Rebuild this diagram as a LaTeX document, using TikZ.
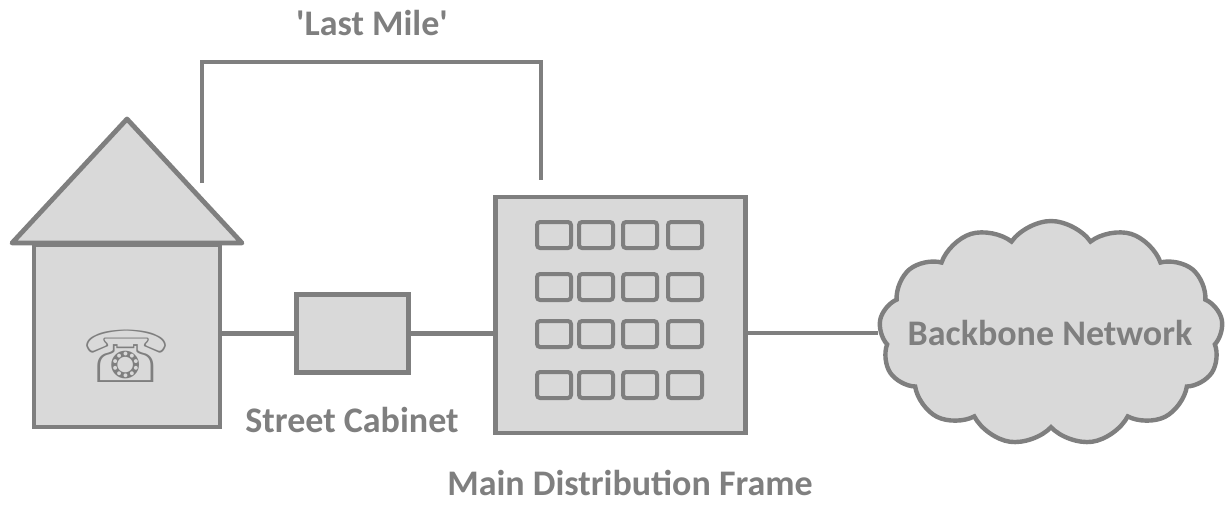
\documentclass[tikz,border=0pt]{standalone}
\usepackage{fontspec}
\setmainfont{Carlito}
\newfontfamily\symfont{DejaVu Sans}
\usepackage{tikz}
\usepackage{xcolor}
\usetikzlibrary{calc,shapes.symbols}
\definecolor{wiregray}{RGB}{127,127,127}
\definecolor{boxfill}{RGB}{217,217,217}
\begin{document}
\begin{tikzpicture}[x=0.5pt,y=-0.5pt,
        boxnode/.style={rectangle, draw=wiregray, fill=boxfill, line width=2.4pt, inner sep=0pt},
        portnode/.style={rectangle, draw=wiregray, fill=boxfill, line width=2pt, rounded corners=1.5pt, minimum width=17pt, minimum height=13pt, inner sep=0pt},
        labelnode/.style={text=wiregray, anchor=base, inner sep=0pt, font=\bfseries\fontsize{18}{21}\selectfont},
        wire/.style={draw=wiregray, line width=2.2pt}
        ]
            \useasboundingbox (0,0) rectangle (1232,505);

            % house
            \draw[draw=wiregray, fill=boxfill, line width=2.4pt, line join=round] (12,243) -- (127,119) -- (242,243) -- cycle;
            \node[boxnode, minimum width=93pt, minimum height=91pt] (house) at (127,336) {};
            \node[text=wiregray, font=\symfont\fontsize{36}{36}\selectfont] (phone) at (127,356) {☏};

            \node[boxnode, minimum width=56pt, minimum height=39pt] (cab) at (352.5,333.5) {};
            \node[boxnode, minimum width=125pt, minimum height=118pt] (mdf) at (620.5,315) {};
            \foreach \y [count=\r] in {235,287,334,385} {
                \foreach \x [count=\c] in {554,596,640,685} {
                    \node[portnode] (p\r\c) at (\x,\y) {};
                }
            }
            \node[cloud, cloud puffs=13, cloud puff arc=110, aspect=1.8, draw=wiregray, fill=boxfill, line width=2.2pt,
                  minimum width=172pt, minimum height=112pt, inner sep=0pt] (net) at (1051,333) {};
            \node[labelnode] (netlabel) at (1050,345) {Backbone Network};

            \coordinate (lmstart) at (202,183);
            \coordinate (lmend) at (541,180);

            \draw[wire] (lmstart) -- ($(lmstart)!1!(lmstart |- 0,62)$) -| (lmend);
            \draw[wire] (house.east |- cab.west) -- (cab.west);
            \draw[wire] (cab.east) -- (cab.east -| mdf.west);
            \draw[wire] (mdf.east |- net.west) -- (net.west);

            \node[labelnode] (lastmile) at (372,35) {\textquotesingle Last Mile\textquotesingle};
            \node[labelnode] (cablabel) at (352,432) {Street Cabinet};
            \node[labelnode] (mdflabel) at (630,495) {Main Distribution Frame};

        \end{tikzpicture}
\end{document}
